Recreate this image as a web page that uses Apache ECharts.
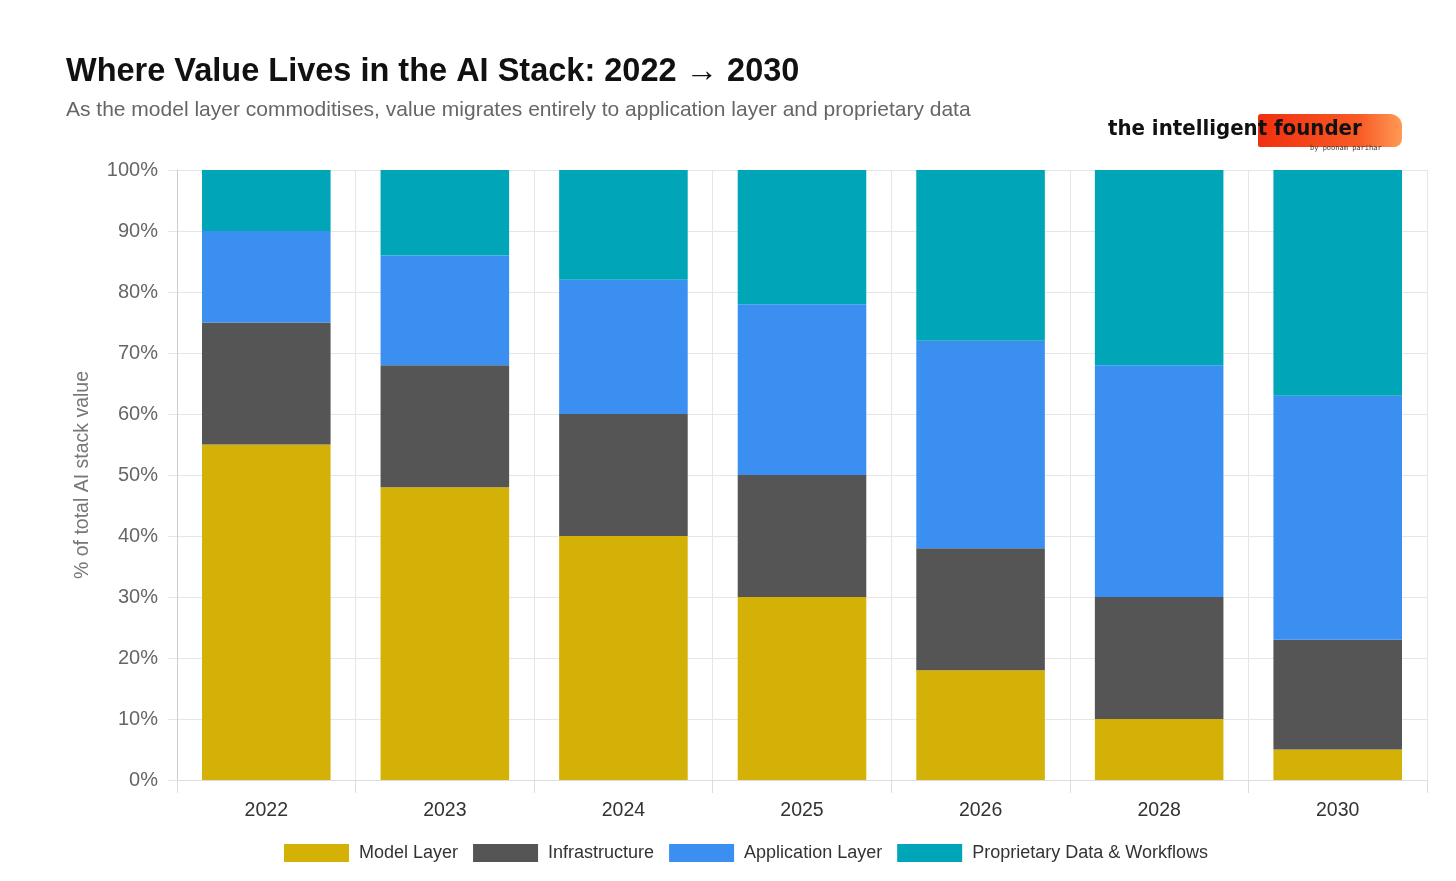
<!DOCTYPE html>
<html>
<head>
<meta charset="utf-8">
<script src="https://cdn.jsdelivr.net/npm/echarts@6/dist/echarts.min.js"></script>
<style>
html,body{margin:0;padding:0;background:#fff;}
#chart{width:1456px;height:881px;}
</style>
</head>
<body>
<div id="chart"></div>
<script>
const categories = ['2022','2023','2024','2025','2026','2028','2030'];
const modelLayer = [55, 48, 40, 30, 18, 10, 5];
const infrastructure = [20, 20, 20, 20, 20, 20, 18];
const applicationLayer = [15, 18, 22, 28, 34, 38, 40];
const proprietaryData = [10, 14, 18, 22, 28, 32, 37];
const yTicks = ['0%','10%','20%','30%','40%','50%','60%','70%','80%','90%','100%'];

const FONT = '"Liberation Sans", Arial, Helvetica, sans-serif';
const chart = echarts.init(document.getElementById('chart'));

const mk = (name, data, color) => ({
  name, type: 'bar', stack: 'total', data, barWidth: '72%',
  itemStyle: { color }, emphasis: { disabled: true }
});

chart.setOption({
  animation: false,
  backgroundColor: '#fff',
  title: [{
    text: 'Where Value Lives in the AI Stack: 2022 \u2192 2030',
    left: 61, top: 51,
    textStyle: { fontFamily: FONT, fontSize: 32.5, fontWeight: 'bold', color: '#111' }
  }, {
    text: 'As the model layer commoditises, value migrates entirely to application layer and proprietary data',
    left: 61, top: 95,
    textStyle: { fontFamily: FONT, fontSize: 21, fontWeight: 'normal', color: '#666' }
  }],
  legend: {
    bottom: 14, left: 279,
    itemWidth: 65, itemHeight: 18, itemGap: 15,
    icon: 'rect',
    textStyle: { fontFamily: FONT, fontSize: 18, color: '#333', padding: [0, 0, 0, 5] },
    data: ['Model Layer','Infrastructure','Application Layer','Proprietary Data & Workflows']
  },
  grid: { left: 177, right: 29, top: 170, bottom: 101 },
  xAxis: {
    type: 'category', data: categories,
    axisLine: { show: true, lineStyle: { color: '#ddd' } },
    axisTick: { show: true, length: 13, lineStyle: { color: '#ddd' } },
    splitLine: { show: true, lineStyle: { color: '#e6e6e6' } },
    axisLabel: { fontFamily: FONT, fontSize: 19.5, color: '#333', margin: 21 }
  },
  yAxis: {
    type: 'value', min: 0, max: 100, interval: 10,
    name: '% of total AI stack value', nameLocation: 'middle', nameGap: 84, nameRotate: 90,
    nameTextStyle: { fontFamily: FONT, fontSize: 19.5, color: '#777' },
    axisLine: { show: true, lineStyle: { color: '#ccc' } },
    axisTick: { show: true, length: 9, lineStyle: { color: '#e6e6e6' } },
    splitLine: { show: true, lineStyle: { color: '#e6e6e6' } },
    axisLabel: {
      fontFamily: FONT, fontSize: 20, color: '#666', margin: 19,
      formatter: v => yTicks[Math.round(v / 10)]
    }
  },
  series: [
    mk('Model Layer', modelLayer, '#D4B106'),
    mk('Infrastructure', infrastructure, '#555555'),
    mk('Application Layer', applicationLayer, '#3A8FF0'),
    mk('Proprietary Data & Workflows', proprietaryData, '#00A6B7')
  ],
  graphic: [{
    type: 'group', left: 1108, top: 114,
    children: [{
      type: 'rect',
      shape: { x: 150, y: 2, width: 144, height: 33, r: [3, 12, 8, 2] },
      style: {
        fill: new echarts.graphic.LinearGradient(0, 0, 1, 0, [
          { offset: 0, color: '#F0300F' }, { offset: 0.7, color: '#F85A25' }, { offset: 1, color: '#FF9A55' }
        ])
      }
    }, {
      type: 'text', x: 0, y: 6,
      style: { text: 'the intelligent founder', font: 'bold 22px "DejaVu Sans Condensed", sans-serif', fill: '#111' }
    }, {
      type: 'text', x: 202, y: 33,
      style: { text: 'by poonam parihar', font: '7px "DejaVu Sans Mono", monospace', fill: '#333' }
    }]
  }]
});
</script>
</body>
</html>
